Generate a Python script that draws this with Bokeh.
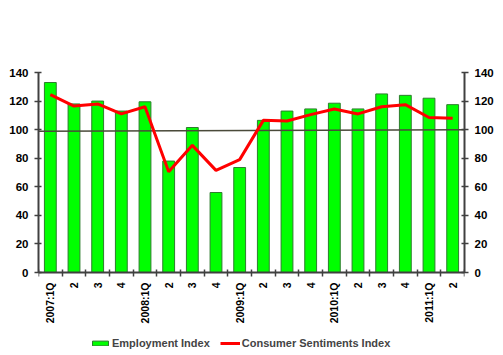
import numpy as np
from bokeh.plotting import figure
from bokeh.models import (ColumnDataSource, LinearAxis, Range1d, FixedTicker,
                          Legend, LegendItem)
from bokeh.embed import file_html
from bokeh.resources import INLINE

categories = ["2007:1Q", "2", "3", "4", "2008:1Q", "2", "3", "4", "2009:1Q",
              "2", "3", "4", "2010:1Q", "2", "3", "4", "2011:1Q", "2"]
employment = [133, 118, 120, 113, 119.5, 78, 101.5, 56, 73.5,
              106.5, 113, 114.5, 118.5, 114.5, 125, 124, 122, 117.5]
sentiment = [124.5, 116.5, 118, 111, 116, 70.5, 89, 71.5, 79,
             106.5, 106, 110.5, 114.5, 111, 116, 117.5, 108.5, 108]
trend_x = [0.5, 18.5]
trend_y = [98.8, 100.0]
y_ticks = [0, 20, 40, 60, 80, 100, 120, 140]

xs = list(range(1, len(categories) + 1))
src = ColumnDataSource(dict(x=xs, emp=employment, sent=sentiment))

FONT = "Liberation Sans"
AX = "#404040"

# frame extends below the value axis so that labels and legend sit inside it
p = figure(frame_width=426, frame_height=283, output_backend="svg", toolbar_location=None,
           x_range=Range1d(0.5, 18.5), y_range=Range1d(-58.1, 140),
           min_border_left=38, min_border_right=39, min_border_top=72,
           min_border_bottom=0, x_axis_location=None, y_axis_location=None)
p.outline_line_color = None
p.background_fill_color = "white"
p.border_fill_color = "white"
p.xgrid.visible = False
p.ygrid.ticker = FixedTicker(ticks=[140])
p.ygrid.grid_line_color = "#c8c8c8"
p.ygrid.grid_line_width = 1

bars = p.vbar(x="x", top="emp", bottom=0, width=0.5, source=src, fill_color="#00ff00",
              line_color="#2e7d2e", line_width=1)
p.line(trend_x, trend_y, line_color="#4a4a3a", line_width=1.5)
ln = p.line("x", "sent", source=src, line_color="#ff0000", line_width=3)

def style_y(ax):
    ax.ticker = FixedTicker(ticks=y_ticks)
    ax.bounds = (0, 140)
    ax.axis_line_color = AX
    ax.axis_line_width = 2
    ax.major_tick_line_color = AX
    ax.major_tick_line_width = 1.5
    ax.major_tick_in = 3
    ax.major_tick_out = 4
    ax.minor_tick_line_color = None
    ax.major_label_text_font = FONT
    ax.major_label_text_font_style = "bold"
    ax.major_label_text_font_size = "11.5px"
    ax.major_label_text_color = "black"
    ax.major_label_standoff = 6

yl = LinearAxis()
style_y(yl)
p.add_layout(yl, "left")
yr = LinearAxis()
style_y(yr)
p.add_layout(yr, "right")

# boundary tick axis at value 0
bticks = [i + 0.5 for i in range(0, 19)]
xb = LinearAxis(ticker=FixedTicker(ticks=bticks), fixed_location=0)
xb.major_label_overrides = {t: "" for t in bticks}
xb.axis_line_color = AX
xb.axis_line_width = 2
xb.major_tick_line_color = AX
xb.major_tick_line_width = 1.5
xb.major_tick_in = 3
xb.major_tick_out = 4
xb.minor_tick_line_color = None
xb.major_label_standoff = 0
p.add_layout(xb, "below")

# category label axis at value 0
xl = LinearAxis(ticker=FixedTicker(ticks=xs), fixed_location=0)
xl.major_label_overrides = {x: c for x, c in zip(xs, categories)}
xl.axis_line_color = None
xl.major_tick_line_color = None
xl.minor_tick_line_color = None
xl.major_tick_in = 0
xl.major_tick_out = 0
xl.major_label_orientation = np.pi / 2
xl.major_label_text_font = FONT
xl.major_label_text_font_style = "bold"
xl.major_label_text_font_size = "10.5px"
xl.major_label_text_color = "black"
xl.major_label_standoff = 10
p.add_layout(xl, "below")

legend = Legend(items=[LegendItem(label="Employment Index", renderers=[bars]),
                       LegendItem(label="Consumer Sentiments Index", renderers=[ln])],
                orientation="horizontal", location=(52, 6))
legend.label_text_font = FONT
legend.label_text_font_style = "bold"
legend.label_text_font_size = "11px"
legend.label_height = 12
legend.border_line_color = None
legend.background_fill_alpha = 0
legend.glyph_width = 20
legend.glyph_height = 6
legend.label_standoff = 2
legend.spacing = 10
legend.padding = 0
legend.margin = 0
p.add_layout(legend, "center")

open("out.html", "w").write(file_html(p, INLINE))
